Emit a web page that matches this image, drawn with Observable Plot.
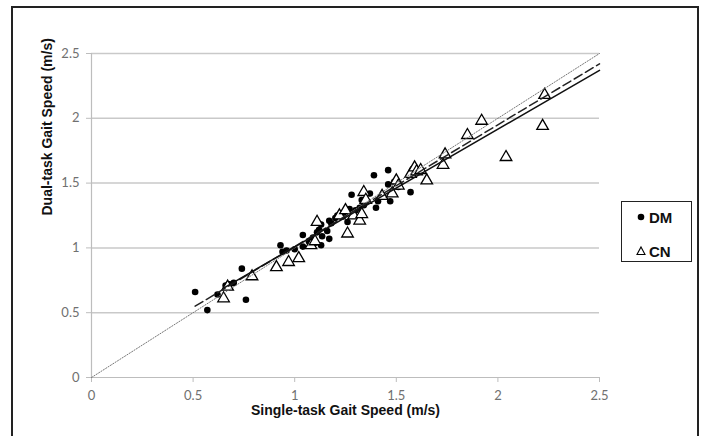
<!DOCTYPE html>
<html>
<head>
<meta charset="utf-8">
<script src="https://cdn.jsdelivr.net/npm/d3@7"></script>
<script src="https://cdn.jsdelivr.net/npm/@observablehq/plot@0.6"></script>
<style>
  html, body { margin: 0; padding: 0; background: #fff; }
  #wrap { position: relative; width: 701px; height: 436px; overflow: hidden; }
  #frame { position: absolute; left: 11px; top: 6px; width: 688px; height: 440px; border: 2px solid #222; box-sizing: border-box; }
  #chart { position: absolute; left: 0; top: 0; }
  #legend { position: absolute; left: 621px; top: 201px; width: 71px; height: 61px; border: 1.5px solid #222; box-sizing: border-box; background: #fff;
            font-family: "Liberation Sans", Arial, sans-serif; font-weight: bold; font-size: 15px; color: #111; }
  .item { position: absolute; left: 14px; height: 18px; display: flex; align-items: center; }
  .item svg { margin-right: 3px; }
</style>
</head>
<body>
<div id="wrap">
  <div id="chart"></div>
  <div id="frame"></div>
  <div id="legend"></div>
</div>
<script>
// ---- data ----
const dmX = [0.51,0.57,0.62,0.66,0.68,0.70,0.74,0.76,0.93,0.94,0.96,1.00,1.04,1.04,1.07,1.09,1.10,1.11,1.12,1.13,1.13,1.135,1.16,1.17,1.17,1.18,1.20,1.21,1.23,1.24,1.26,1.27,1.28,1.30,1.32,1.33,1.34,1.37,1.39,1.40,1.41,1.46,1.46,1.47,1.49,1.51,1.57,1.58,1.59];
const dmY = [0.66,0.52,0.64,0.71,0.72,0.73,0.84,0.60,1.02,0.97,0.98,0.99,1.10,1.01,1.05,1.08,1.04,1.12,1.14,1.02,1.18,1.09,1.13,1.07,1.21,1.19,1.23,1.25,1.24,1.27,1.20,1.30,1.41,1.29,1.31,1.37,1.33,1.42,1.56,1.31,1.36,1.60,1.49,1.36,1.51,1.47,1.43,1.60,1.62];
const cnX = [0.65,0.67,0.79,0.91,0.97,1.02,1.08,1.10,1.11,1.22,1.25,1.26,1.29,1.32,1.33,1.34,1.35,1.43,1.48,1.50,1.51,1.57,1.59,1.60,1.62,1.65,1.73,1.74,1.85,1.92,2.04,2.22,2.23];
const cnY = [0.61,0.70,0.78,0.85,0.89,0.92,1.02,1.05,1.20,1.25,1.29,1.11,1.25,1.21,1.26,1.43,1.37,1.40,1.42,1.52,1.48,1.57,1.62,1.59,1.60,1.52,1.64,1.72,1.87,1.98,1.70,1.94,2.18];
// trend lines (endpoints)
const dmFitX = [0.51, 2.5];
const dmFitY = [0.55, 2.42];
const cnFitX = [0.65, 2.5];
const cnFitY = [0.69, 2.37];
const identityX = [0, 2.5];
const identityY = [0, 2.5];
const ticks = [0, 0.5, 1, 1.5, 2, 2.5];
const tickLabels = ["0", "0.5", "1", "1.5", "2", "2.5"];
const seriesNames = ["DM", "CN"];
const xTitle = "Single-task Gait Speed (m/s)";
const yTitle = "Dual-task Gait Speed (m/s)";

const dm = dmX.map((x, i) => ({x, y: dmY[i]}));
const cn = cnX.map((x, i) => ({x, y: cnY[i]}));
const pts = (xs, ys) => xs.map((x, i) => ({x, y: ys[i]}));
const fmt = d => tickLabels[ticks.indexOf(d)];

const plot = Plot.plot({
  width: 701, height: 436,
  marginLeft: 91, marginRight: 102, marginTop: 53, marginBottom: 59,
  x: {domain: [0, 2.5]},
  y: {domain: [0, 2.5]},
  style: {background: "transparent", fontFamily: "Lato, 'Open Sans', sans-serif"},
  marks: [
    Plot.ruleY(ticks.filter(t => t > 0), {stroke: "#c9c9c9", strokeWidth: 1.5}),
    Plot.axisY(ticks, {tickSize: 5, tickPadding: 7, stroke: "#bdbdbd", fill: "#707070", fontSize: 13, tickFormat: fmt, label: null}),
    Plot.axisX(ticks, {tickSize: 5, tickPadding: 8, stroke: "#bdbdbd", fill: "#707070", fontSize: 13, tickFormat: fmt, label: null}),
    Plot.ruleX([0], {stroke: "#bdbdbd", strokeWidth: 1.2}),
    Plot.ruleY([0], {stroke: "#bdbdbd", strokeWidth: 1.2}),
    Plot.dot(dm, {x: "x", y: "y", r: 3.3, fill: "#000", stroke: "none"}),
    Plot.dot(cn, {x: "x", y: "y", symbol: "triangle", r: 4.3, fill: "#fff", stroke: "#000", strokeWidth: 1.3}),
    Plot.line(pts(identityX, identityY), {x: "x", y: "y", stroke: "#777", strokeWidth: 1, strokeDasharray: "1.2,1.6"}),
    Plot.line(pts(dmFitX, dmFitY), {x: "x", y: "y", stroke: "#222", strokeWidth: 1.5, strokeDasharray: "9,4"}),
    Plot.line(pts(cnFitX, cnFitY), {x: "x", y: "y", stroke: "#111", strokeWidth: 1.5}),
    Plot.text([xTitle], {frameAnchor: "bottom", dy: 37, fontSize: 14, fontWeight: "bold", fill: "#111", fontFamily: "'Liberation Sans', Arial, sans-serif"}),
    Plot.text([yTitle], {frameAnchor: "left", dx: -44, rotate: -90, fontSize: 14, fontWeight: "bold", fill: "#111", fontFamily: "'Liberation Sans', Arial, sans-serif"})
  ]
});
document.getElementById("chart").appendChild(plot);

// legend
const legend = document.getElementById("legend");
const symbols = [
  '<svg width="10" height="12"><circle cx="5" cy="6" r="3.3" fill="#000"/></svg>',
  '<svg width="10" height="12"><path d="M5,2 L9,9.5 L1,9.5 Z" fill="#fff" stroke="#000" stroke-width="1.1"/></svg>'
];
seriesNames.forEach((name, i) => {
  const it = document.createElement("div");
  it.className = "item";
  it.style.top = (i === 0 ? 6 : 40) + "px";
  it.innerHTML = symbols[i] + "<span>" + name + "</span>";
  legend.appendChild(it);
});
</script>
</body>
</html>
